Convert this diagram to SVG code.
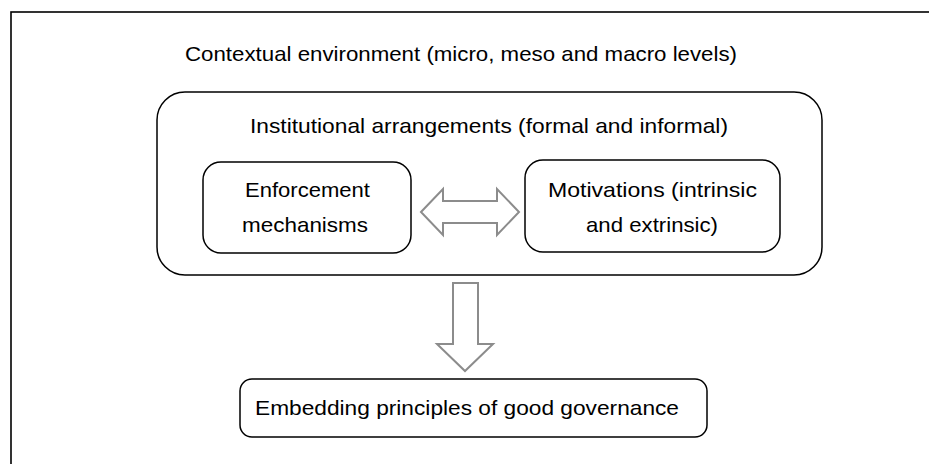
<svg xmlns="http://www.w3.org/2000/svg" width="929" height="464" viewBox="0 0 929 464">
<style>
.box{fill:#fff;stroke:#000;stroke-width:1.5}
.t{font-family:"Liberation Sans",Arial,sans-serif;font-size:21px;fill:#000}
.arr{fill:#fff;stroke:#8c8c8c;stroke-width:2;stroke-linejoin:miter}
</style>
<rect width="929" height="464" fill="#fff"/>
<g id="context">
<rect x="11" y="12" width="1000" height="1000" fill="none" stroke="#000" stroke-width="1.6"/>
<text class="t" x="185" y="61" textLength="552" lengthAdjust="spacingAndGlyphs">Contextual environment (micro, meso and macro levels)</text>
</g>
<g id="institutional">
<rect class="box" x="157" y="92" width="665" height="183" rx="28" ry="28"/>
<text class="t" x="250" y="133" textLength="478" lengthAdjust="spacingAndGlyphs">Institutional arrangements (formal and informal)</text>
</g>
<g id="enforcement">
<rect class="box" x="203" y="162" width="208" height="91" rx="18" ry="18"/>
<text class="t" x="245" y="197" textLength="125" lengthAdjust="spacingAndGlyphs">Enforcement</text>
<text class="t" x="242" y="232" textLength="126" lengthAdjust="spacingAndGlyphs">mechanisms</text>
</g>
<g id="motivations">
<rect class="box" x="525" y="160" width="255" height="92" rx="18" ry="18"/>
<text class="t" x="548" y="197" textLength="209" lengthAdjust="spacingAndGlyphs">Motivations (intrinsic</text>
<text class="t" x="586" y="232" textLength="132" lengthAdjust="spacingAndGlyphs">and extrinsic)</text>
</g>
<g id="embedding">
<rect class="box" x="240" y="379" width="467" height="58" rx="12" ry="12"/>
<text class="t" x="255" y="415" textLength="424" lengthAdjust="spacingAndGlyphs">Embedding principles of good governance</text>
</g>
<g id="connectors">
<path class="arr" d="M421,212 L443,189 L443,201 L497,201 L497,189 L519,212 L497,235 L497,223 L443,223 L443,235 Z"/>
<path class="arr" d="M453,283 L478,283 L478,344 L493,344 L465,371 L437,344 L453,344 Z"/>
</g>
</svg>
